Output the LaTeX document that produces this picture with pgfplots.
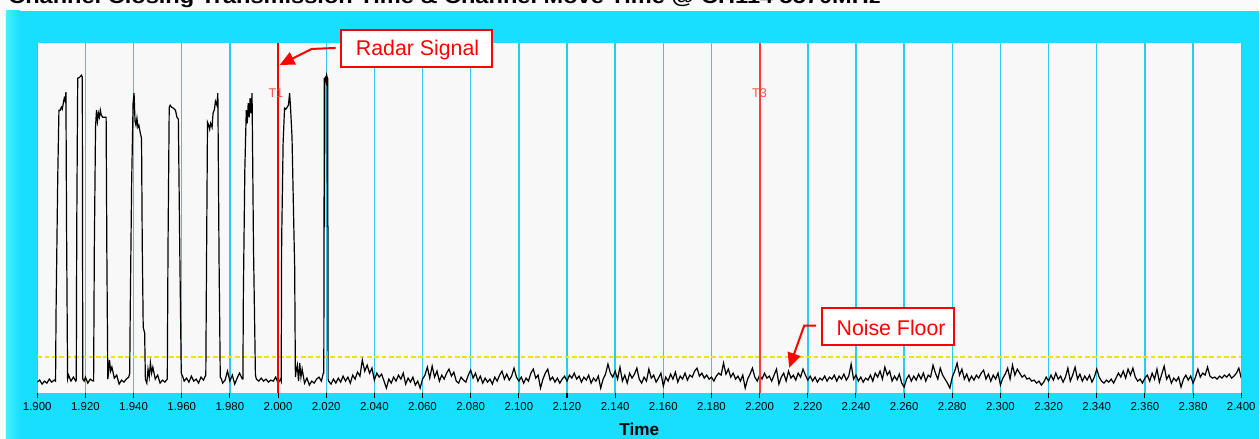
\documentclass[border=0pt]{standalone}
\usepackage{fontspec}
\setmainfont{Liberation Sans}
\usepackage{pgfplots}
\usepackage{pgfplotstable}
\pgfplotsset{compat=1.18}
\usetikzlibrary{arrows.meta}
\definecolor{panel}{RGB}{24,223,255}
\definecolor{panelhi}{RGB}{70,238,255}
\definecolor{plotbg}{RGB}{248,248,248}
\definecolor{gridc}{RGB}{40,205,235}
\definecolor{noisey}{RGB}{240,228,0}
\definecolor{mred}{RGB}{255,0,0}
\definecolor{mredb}{RGB}{255,60,60}
\definecolor{tlab}{RGB}{255,80,80}
\definecolor{topbg}{RGB}{250,250,250}

\pgfplotstableread{
x y
1.9000 11
1.9010 13
1.9020 9
1.9030 12
1.9040 10
1.9050 14
1.9060 11
1.9070 13
1.9076 12
1.9078 80
1.9085 215
1.9090 283
1.9095 283
1.9100 286
1.9104 284
1.9108 290
1.9112 295
1.9116 292
1.9119 301
1.9122 153
1.9126 14
1.9130 18
1.9140 12
1.9150 16
1.9160 12
1.9162 13
1.9164 166
1.9168 315
1.9176 316
1.9184 318
1.9187 316
1.9189 14
1.9195 12
1.9200 16
1.9210 10
1.9220 14
1.9232 12
1.9234 12
1.9237 145
1.9242 266
1.9246 283
1.9250 272
1.9254 280
1.9258 276
1.9262 283
1.9266 278
1.9272 276
1.9280 276
1.9286 276
1.9289 140
1.9293 14
1.9296 20
1.9300 33
1.9305 22
1.9310 26
1.9320 15
1.9330 18
1.9340 9
1.9350 13
1.9360 11
1.9370 14
1.9380 16
1.9384 20
1.9386 80
1.9392 211
1.9398 290
1.9402 300
1.9406 272
1.9410 268
1.9414 275
1.9418 266
1.9422 268
1.9428 260
1.9433 255
1.9436 150
1.9440 66
1.9446 60
1.9449 14
1.9455 10
1.9460 24
1.9465 16
1.9470 30
1.9475 20
1.9480 26
1.9490 14
1.9500 18
1.9510 10
1.9520 13
1.9530 11
1.9540 14
1.9543 146
1.9548 286
1.9552 288
1.9558 286
1.9566 285
1.9574 283
1.9580 276
1.9586 274
1.9592 140
1.9598 20
1.9605 16
1.9610 12
1.9620 15
1.9630 11
1.9640 17
1.9650 12
1.9660 14
1.9670 10
1.9680 16
1.9690 13
1.9700 18
1.9703 133
1.9707 271
1.9712 268
1.9716 264
1.9720 270
1.9726 266
1.9730 280
1.9736 284
1.9740 292
1.9746 288
1.9750 300
1.9755 133
1.9760 16
1.9765 14
1.9770 10
1.9780 13
1.9790 22
1.9800 12
1.9810 18
1.9820 9
1.9830 15
1.9840 20
1.9852 14
1.9854 14
1.9856 100
1.9862 223
1.9868 283
1.9872 270
1.9876 290
1.9880 276
1.9884 295
1.9888 280
1.9892 300
1.9898 146
1.9906 18
1.9910 14
1.9920 12
1.9930 15
1.9940 12
1.9950 14
1.9960 11
1.9970 13
1.9980 12
1.9990 16
2.0000 10
2.0010 14
2.0013 12
2.0015 153
2.0021 250
2.0027 285
2.0032 284
2.0038 286
2.0043 288
2.0048 300
2.0052 285
2.0058 256
2.0066 160
2.0069 126
2.0072 16
2.0075 22
2.0080 28
2.0085 12
2.0090 30
2.0095 16
2.0100 24
2.0110 10
2.0120 15
2.0130 8
2.0140 12
2.0150 10
2.0160 14
2.0170 16
2.0180 12
2.0188 20
2.0190 20
2.0191 166
2.0192 315
2.0193 166
2.0194 315
2.0197 316
2.0200 312
2.0202 318
2.0204 316
2.0205 166
2.0206 315
2.0207 166
2.0208 14
2.0210 12
2.022 9
2.023 14
2.024 10
2.025 15
2.026 11
2.027 17
2.028 12
2.029 16
2.030 10
2.031 18
2.032 14
2.033 21
2.034 17
2.035 33
2.036 22
2.037 28
2.038 20
2.039 25
2.040 13
2.041 20
2.042 16
2.043 19
2.044 12
2.045 5
2.046 14
2.047 10
2.048 16
2.049 12
2.050 18
2.051 14
2.052 20
2.053 9
2.054 15
2.055 11
2.056 16
2.057 8
2.058 12
2.059 5
2.060 14
2.061 18
2.062 26
2.063 15
2.064 27
2.065 16
2.066 22
2.067 12
2.068 18
2.069 14
2.070 20
2.071 24
2.072 17
2.073 21
2.074 12
2.075 10
2.076 16
2.077 13
2.078 11
2.079 18
2.080 23
2.081 15
2.082 20
2.083 12
2.084 17
2.085 10
2.086 15
2.087 11
2.088 14
2.089 9
2.090 16
2.091 12
2.092 18
2.093 22
2.094 14
2.095 19
2.096 13
2.097 17
2.098 25
2.099 16
2.100 12
2.101 16
2.102 10
2.103 15
2.104 12
2.105 20
2.106 24
2.107 15
2.108 18
2.109 5
2.110 14
2.111 20
2.112 24
2.113 13
2.114 16
2.115 11
2.116 15
2.117 10
2.118 14
2.119 17
2.120 12
2.121 18
2.122 15
2.123 20
2.124 14
2.125 17
2.126 11
2.127 16
2.128 13
2.129 18
2.130 10
2.131 15
2.132 12
2.133 17
2.134 5
2.135 14
2.136 19
2.137 29
2.138 20
2.139 16
2.140 22
2.141 14
2.142 26
2.143 12
2.144 18
2.145 10
2.146 20
2.147 15
2.148 19
2.149 25
2.150 14
2.151 10
2.152 16
2.153 12
2.154 24
2.155 15
2.156 18
2.157 11
2.158 15
2.159 20
2.160 7
2.161 16
2.162 12
2.163 19
2.164 14
2.165 21
2.166 11
2.167 17
2.168 14
2.169 20
2.170 13
2.171 18
2.172 16
2.173 22
2.174 25
2.175 17
2.176 20
2.177 15
2.178 18
2.179 14
2.180 16
2.181 12
2.182 17
2.183 20
2.184 18
2.185 30
2.186 19
2.187 24
2.188 16
2.189 20
2.190 14
2.191 17
2.192 12
2.193 18
2.194 5
2.195 14
2.196 19
2.197 25
2.198 16
2.199 12
2.200 18
2.201 14
2.202 20
2.203 15
2.204 17
2.205 12
2.206 18
2.207 24
2.208 9
2.209 16
2.210 20
2.211 12
2.212 22
2.213 15
2.214 18
2.215 13
2.216 20
2.217 16
2.218 24
2.219 18
2.220 13
2.221 17
2.222 12
2.223 16
2.224 11
2.225 15
2.226 13
2.227 17
2.228 12
2.229 16
2.230 14
2.231 18
2.232 12
2.233 17
2.234 14
2.235 19
2.236 13
2.237 17
2.238 29
2.239 14
2.240 18
2.241 12
2.242 16
2.243 11
2.244 15
2.245 13
2.246 18
2.247 12
2.248 20
2.249 16
2.250 22
2.251 14
2.252 26
2.253 18
2.254 22
2.255 12
2.256 17
2.257 13
2.258 19
2.259 10
2.260 6
2.261 14
2.262 18
2.263 12
2.264 17
2.265 13
2.266 19
2.267 14
2.268 20
2.269 12
2.270 18
2.271 16
2.272 28
2.273 20
2.274 14
2.275 25
2.276 18
2.277 14
2.278 10
2.279 5
2.280 16
2.281 22
2.282 30
2.283 18
2.284 24
2.285 14
2.286 19
2.287 12
2.288 17
2.289 13
2.290 18
2.291 15
2.292 20
2.293 23
2.294 14
2.295 19
2.296 12
2.297 18
2.298 14
2.299 20
2.300 8
2.301 15
2.302 19
2.303 25
2.304 14
2.305 28
2.306 18
2.307 24
2.308 20
2.309 16
2.310 18
2.311 14
2.312 15
2.313 12
2.314 13
2.315 10
2.316 12
2.317 8
2.318 11
2.319 16
2.320 12
2.321 18
2.322 13
2.323 20
2.324 14
2.325 17
2.326 11
2.327 16
2.328 25
2.329 12
2.330 18
2.331 26
2.332 14
2.333 19
2.334 12
2.335 17
2.336 13
2.337 18
2.338 11
2.339 16
2.340 24
2.341 16
2.342 12
2.343 10
2.344 13
2.345 11
2.346 14
2.347 10
2.348 15
2.349 20
2.350 16
2.351 22
2.352 15
2.353 24
2.354 18
2.355 25
2.356 16
2.357 12
2.358 14
2.359 10
2.360 15
2.361 18
2.362 12
2.363 20
2.364 14
2.365 24
2.366 11
2.367 19
2.368 27
2.369 14
2.370 18
2.371 10
2.372 15
2.373 12
2.374 16
2.375 6
2.376 14
2.377 18
2.378 13
2.379 17
2.380 10
2.381 16
2.382 24
2.383 16
2.384 20
2.385 18
2.386 26
2.387 17
2.388 15
2.389 16
2.390 14
2.391 17
2.392 15
2.393 18
2.394 16
2.395 19
2.396 15
2.397 17
2.398 20
2.399 25
2.400 15
}\sig

\begin{document}
\begin{tikzpicture}
\begin{scope}[x=0.75pt,y=-0.75pt]
\fill[topbg] (0,0) rectangle (1260,439);
\fill[panel] (6,11) rectangle (1260,439);
\shade[left color=panelhi,right color=panel] (6,11) rectangle (20,439);
\node[overlay,anchor=base west,inner sep=0pt,font=\bfseries\fontsize{15}{18}\selectfont] at (8,4)
  {\scalebox{1.18}[1]{Channel Closing Transmission Time \& Channel Move Time @ CH114 5570MHz}};
\end{scope}

\begin{axis}[
  at={(27.975pt,-295.125pt)}, anchor=south west,
  scale only axis, width=903.9pt, height=262.65pt,
  xmin=1.9, xmax=2.4, ymin=0, ymax=350,
  axis background/.style={fill=plotbg},
  axis line style={draw=none},
  ytick=\empty,
  xtick={1.90,1.92,1.94,1.96,1.98,2.00,2.02,2.04,2.06,2.08,2.10,2.12,2.14,2.16,2.18,2.20,2.22,2.24,2.26,2.28,2.30,2.32,2.34,2.36,2.38,2.40},
  xticklabels={1.900,1.920,1.940,1.960,1.980,2.000,2.020,2.040,2.060,2.080,2.100,2.120,2.140,2.160,2.180,2.200,2.220,2.240,2.260,2.280,2.300,2.320,2.340,2.360,2.380,2.400},
  xtick pos=left, tick align=outside,
  major tick length=3.75pt,
  xtick style={black, line width=0.8pt},
  xticklabel style={font=\fontsize{8.6}{10}\selectfont, text=black},
  xmajorgrids, major grid style={gridc, line width=1.05pt},
  xlabel={Time},
  xlabel style={font=\bfseries\fontsize{12.9}{15}\selectfont, at={(axis description cs:0.5,-0.104)}, anchor=center, overlay},
  clip=true,
]
\addplot[noisey, line width=1pt, dash pattern=on 3.5pt off 2pt] coordinates {(1.9,36) (2.4,36)};
\addplot[black, line width=0.9pt, sharp plot] table[x=x,y=y] {\sig};
\addplot[mred, line width=1.4pt] coordinates {(2.0,0) (2.0,350)};
\addplot[mredb, line width=1.4pt] coordinates {(2.2,0) (2.2,350)};
\node[text=tlab, font=\fontsize{9.5}{10}\selectfont, inner sep=0pt] at (axis cs:1.9991,300.5) {T1};
\node[text=tlab, font=\fontsize{9.5}{10}\selectfont, inner sep=0pt] at (axis cs:2.1999,300.5) {T3};
\end{axis}

\begin{scope}[x=0.75pt,y=-0.75pt]
\draw[mred, line width=1.5pt, fill=white] (341,30) rectangle (492,67);
\node[text=mred, anchor=base, inner sep=0pt, font=\fontsize{16}{18}\selectfont] at (418,56) {Radar Signal};
\draw[mred, line width=1.5pt, -{Triangle[length=11pt,width=10pt]}] (336,48) -- (312,49) -- (280,65);
\draw[mred, line width=1.5pt, fill=white] (823,308) rectangle (955,345);
\node[text=mred, anchor=base, inner sep=0pt, font=\fontsize{16}{18}\selectfont] at (892,336) {Noise Floor};
\draw[mred, line width=1.5pt, -{Triangle[length=11pt,width=10pt]}] (817,326) -- (805,326) -- (790,368);
\end{scope}
\end{tikzpicture}
\end{document}
